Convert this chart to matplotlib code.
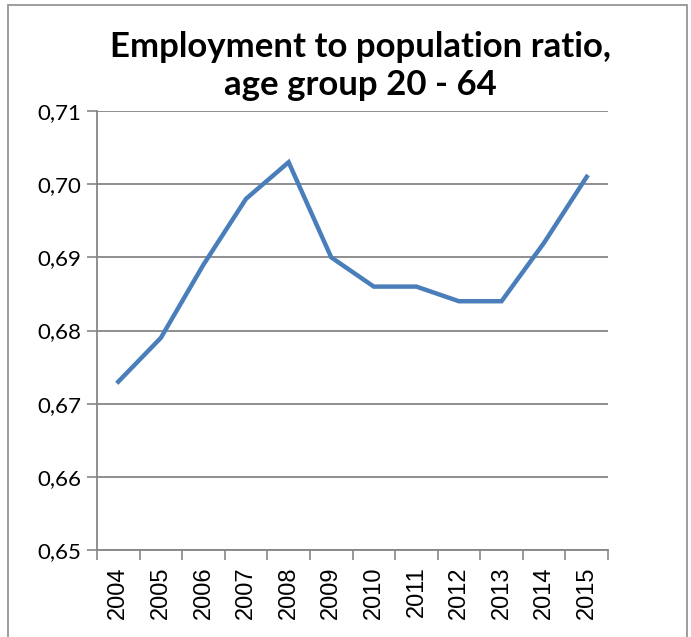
import matplotlib.pyplot as plt
from matplotlib.patches import Rectangle
from matplotlib.ticker import FuncFormatter

years = ['2004', '2005', '2006', '2007', '2008', '2009',
         '2010', '2011', '2012', '2013', '2014', '2015']
ratio = [0.673, 0.679, 0.689, 0.698, 0.703, 0.690,
         0.686, 0.686, 0.684, 0.684, 0.692, 0.701]
y_ticks = [0.65, 0.66, 0.67, 0.68, 0.69, 0.70, 0.71]

grey = '#868686'
fig = plt.figure(figsize=(6.91, 6.37), dpi=100)
plt.rcParams['font.family'] = ['Lato', 'DejaVu Sans']

# chart border
fig.patches.append(Rectangle((8 / 691, -0.01), 679 / 691, 1 - 5 / 637 + 0.01,
                             transform=fig.transFigure, fill=False,
                             edgecolor='#8c8c8c', linewidth=1.2))

ax = fig.add_axes([97 / 691, 1 - 550 / 637, 511 / 691, 439 / 637])
x = list(range(len(years)))
ax.plot(x, ratio, color='#4a7ebb', linewidth=3.2, solid_joinstyle='miter')

ax.set_xlim(-0.5, len(years) - 0.5)
ax.set_ylim(0.65, 0.71)
ax.set_yticks(y_ticks)
ax.yaxis.set_major_formatter(FuncFormatter(lambda v, p: f'{v:.2f}'.replace('.', ',')))
ax.set_xticks(x)
ax.set_xticklabels(years, rotation=90, family='Liberation Sans', fontsize=17)
ax.set_xticks([i - 0.5 for i in range(len(years) + 1)], minor=True)
ax.tick_params(axis='x', which='major', length=0, pad=12)
ax.tick_params(axis='x', which='minor', length=7, color=grey, width=1.2)
ax.tick_params(axis='y', length=7, color=grey, width=1.2, labelsize=16, pad=4)

ax.grid(axis='y', color=grey, linewidth=1.3)
ax.set_axisbelow(True)
for side in ['top', 'right']:
    ax.spines[side].set_visible(False)
for side in ['left', 'bottom']:
    ax.spines[side].set_color(grey)
    ax.spines[side].set_linewidth(1.3)

title_lines = ['Employment to population ratio,', 'age group 20 - 64']
for line, base in zip(title_lines, [57, 95]):
    fig.text(360 / 691, 1 - base / 637, line, ha='center', va='baseline',
             fontsize=25, fontweight='bold')

fig.savefig('out.png', dpi=100)
